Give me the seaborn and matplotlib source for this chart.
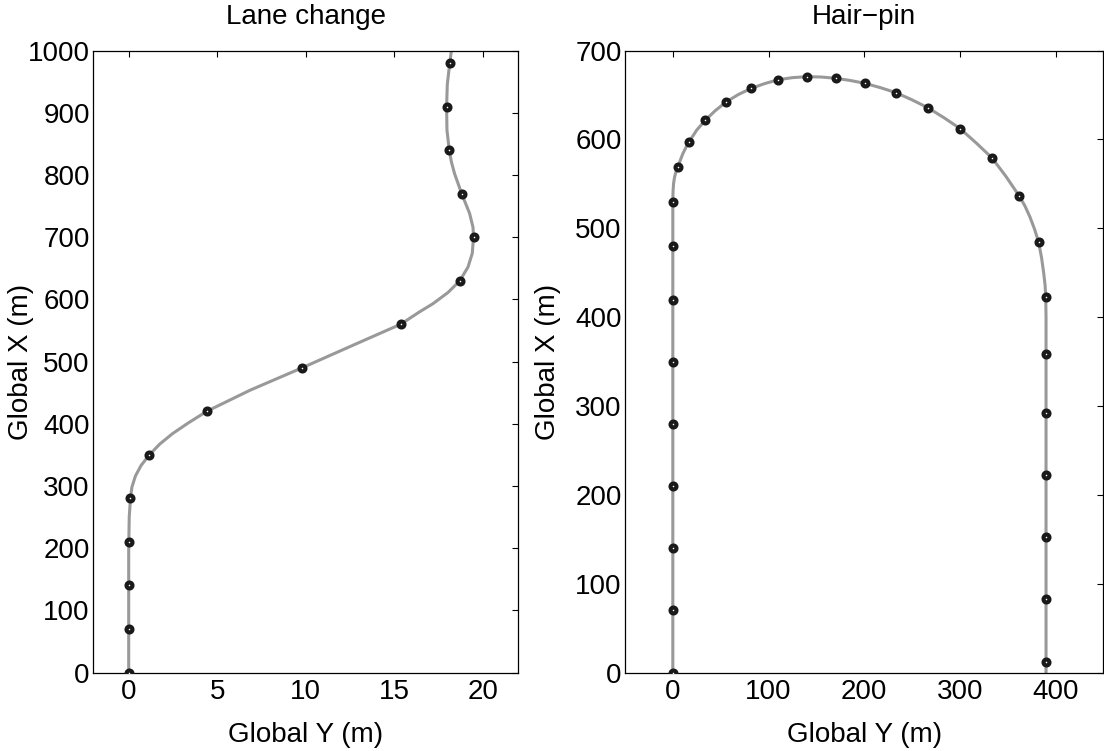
import matplotlib
matplotlib.use("Agg")
import matplotlib.pyplot as plt
import pandas as pd
import seaborn as sns

# ---- Lane change manoeuvre -------------------------------------------------
# waypoints sampled every 70 m along Global X
lane_wp_x = [0, 70, 140, 210, 280, 350, 420, 490, 560, 630, 700, 770, 840, 910, 980]
lane_wp_y = [0.0, 0.0, 0.0, 0.0, 0.1, 1.17, 4.41, 9.8, 15.36, 18.7, 19.47, 18.8, 18.1, 17.95, 18.13]
# reference path traced through the waypoints
lane_path_x = [0, 200, 250, 280, 298, 316, 333, 350, 367, 384, 401, 420, 454, 490, 524, 560,
               580, 593, 611, 630, 652, 674, 700, 716, 738, 770, 802, 821, 840, 872, 910,
               946, 980, 1000]
lane_path_y = [0.0, 0.0, 0.03, 0.1, 0.18, 0.38, 0.7, 1.17, 1.74, 2.47, 3.35, 4.41, 6.86, 9.8, 12.49, 15.36,
               16.43, 17.18, 18.03, 18.7, 19.16, 19.4, 19.47, 19.44, 19.25, 18.8, 18.4, 18.22, 18.1, 17.97, 17.95,
               17.99, 18.13, 18.22]

# ---- Hair-pin manoeuvre ------------------------------------------------------
hp_wp_y = [0, 0, 0, 0, 0, 0, 0, 0, 0,
           5.2, 17, 34, 56, 81.8, 110.3, 140, 170.2, 200.8, 233.2, 266.6, 300.4, 333.5, 361.7, 382.2,
           390, 390, 390, 390, 390, 390, 390]
hp_wp_x = [0, 70, 140, 210, 280, 350, 419, 480, 530,
           568.4, 597.3, 621.7, 642.4, 657.4, 667.2, 670.6, 668.8, 663.1, 652.6, 635.6, 612, 579.2, 536.8, 484.5,
           423, 359, 292, 222, 152, 83, 12]
hp_path_y = [0, 0, 0.2, 0.8, 1.8, 3.3, 5.2, 8, 10.5, 13.5, 17, 25, 34, 44.5, 56, 68.5, 81.8, 96, 110.3,
             125, 140, 155, 170.2, 185.5, 200.8, 217, 233.2, 250, 266.6, 283.5, 300.4, 317, 333.5, 348,
             361.7, 368, 373.2, 378, 382.2, 385.3, 387.6, 389, 389.7, 390, 390]
hp_path_x = [0, 530, 541, 550.5, 557.5, 563.5, 568.4, 577, 584, 590.5, 597.3, 610.5, 621.7, 632.5, 642.4,
             650.5, 657.4, 662.8, 667.2, 669.5, 670.6, 670.2, 668.8, 666.3, 663.1, 658.2, 652.6, 644.5, 635.6,
             624.3, 612, 596, 579.2, 558.5, 536.8, 525, 512.7, 499, 484.5, 467, 449.3, 436, 423, 400, 0]

sns.set_style("white")
plt.rcParams["font.family"] = ["Liberation Sans", "DejaVu Sans"]
plt.rcParams.update({
    "font.size": 20,
    "text.color": "black",
    "axes.labelcolor": "black",
    "axes.linewidth": 0.9,
    "axes.edgecolor": "black",
    "xtick.direction": "in",
    "ytick.direction": "in",
    "xtick.top": True,
    "ytick.right": True,
    "xtick.major.size": 4.5,
    "ytick.major.size": 4.5,
    "xtick.major.width": 0.8,
    "ytick.major.width": 0.8,
    "xtick.color": "black",
    "ytick.color": "black",
    "xtick.labelcolor": "black",
    "ytick.labelcolor": "black",
    "xtick.major.pad": 5,
    "ytick.major.pad": 2.5,
})

fig = plt.figure(figsize=(11.04, 7.51), dpi=100)
ax1 = fig.add_axes([0.0845, 0.1045, 0.385, 0.8282])
ax2 = fig.add_axes([0.5661, 0.1045, 0.4334, 0.8282])

line_color = "#999999"
marker_edge = "#1a1a1a"


def draw(ax, path_y, path_x, wp_y, wp_x):
    path = pd.DataFrame({"gy": path_y, "gx": path_x})
    wps = pd.DataFrame({"gy": wp_y, "gx": wp_x})
    sns.lineplot(data=path, x="gy", y="gx", sort=False, estimator=None,
                 color=line_color, linewidth=2.2, ax=ax, zorder=2)
    sns.scatterplot(data=wps, x="gy", y="gx", marker="o", s=18, color="white",
                    edgecolor=marker_edge, linewidth=3.0, ax=ax, zorder=3)


draw(ax1, lane_path_y, lane_path_x, lane_wp_y, lane_wp_x)
draw(ax2, hp_path_y, hp_path_x, hp_wp_y, hp_wp_x)

ax1.set_xlim(-2, 22)
ax1.set_ylim(0, 1000)
ax1.set_xticks([0, 5, 10, 15, 20])
ax1.set_yticks(range(0, 1001, 100))
ax1.set_title("Lane change", fontsize=20, pad=19, color="black")

ax2.set_xlim(-50, 450)
ax2.set_ylim(0, 700)
ax2.set_xticks([0, 100, 200, 300, 400])
ax2.set_yticks(range(0, 701, 100))
ax2.set_title("Hair\u2212pin", fontsize=20, pad=19, color="black")

for ax in (ax1, ax2):
    ax.set_xlabel("Global Y (m)", fontsize=20, labelpad=12)
    ax.set_ylabel("Global X (m)", fontsize=20)
    for s in ax.spines.values():
        s.set_visible(True)
        s.set_color("black")

ax1.yaxis.set_label_coords(-0.139, 0.5)
ax2.yaxis.set_label_coords(-0.134, 0.5)

fig.savefig("out.png", dpi=100, facecolor="white")
